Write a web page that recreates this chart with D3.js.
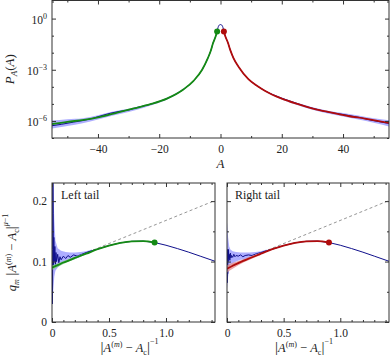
<!DOCTYPE html>
<html>
<head>
<meta charset="utf-8">
<style>
    body { margin: 0; background: #fff; }
    svg text { font-family: "Liberation Serif", "DejaVu Serif", serif; fill: #222; }
    .tick line { stroke: #333; }
    .frame { fill: none; stroke: #333; stroke-width: 1; }
</style>
</head>
<body>
<script src="https://cdn.jsdelivr.net/npm/d3@7"></script>
<script>
// ---- top panel: log10 P_A(A) ----
var leftA = [-55, -50, -44.6, -39.2, -33.7, -28.3, -22.9, -17.5, -12, -8.8, -6, -4.2, -3.2, -2.4, -1.6, -1.1];
var leftLogP = [-6.18, -6.05, -5.94, -5.76, -5.51, -5.27, -5.02, -4.69, -4.14, -3.65, -3.0, -2.35, -1.9, -1.42, -1.05, -0.75];
var rightA = [1.1, 1.6, 2.4, 3.2, 4.2, 6, 9.1, 12, 14.6, 20, 25.4, 30.8, 36.3, 41.7, 47.1, 55];
var rightLogP = [-0.75, -1.05, -1.4, -1.85, -2.3, -2.85, -3.55, -3.95, -4.24, -4.69, -5.02, -5.31, -5.51, -5.71, -5.86, -6.12];

var blueA = [-55, -52, -48, -45, -42, -39, -36, -33, -30, -27, -24, -20, -17.5, -12, -8.8, -6, -4.2, -3.2, -2.4, -1.6, -1.1, -0.8, -0.4, 0,
    0.4, 0.8, 1.1, 1.6, 2.4, 3.2, 4.2, 6, 9.1, 12, 14.6, 20, 25.4, 28, 31, 34, 37, 40, 43, 46, 49, 52, 55];
var blueLogP = [-6.28, -6.2, -6.07, -5.98, -5.86, -5.7, -5.55, -5.44, -5.36, -5.2, -5.08, -4.86, -4.69, -4.14, -3.65, -3.0, -2.35, -1.9, -1.42, -1.05, -0.75, -0.52, -0.38, -0.35,
    -0.38, -0.52, -0.75, -1.05, -1.4, -1.85, -2.3, -2.85, -3.55, -3.95, -4.24, -4.67, -5.0, -5.16, -5.3, -5.44, -5.54, -5.62, -5.72, -5.82, -5.95, -6.05, -6.15];

var bandLA = [-55, -50, -45, -40, -35, -30, -25, -20, -15, -10];
var bandLLo = [-6.45, -6.3, -6.14, -5.92, -5.68, -5.47, -5.22, -4.94, -4.52, -3.9];
var bandLHi = [-5.98, -5.9, -5.84, -5.66, -5.44, -5.28, -5.08, -4.82, -4.42, -3.84];
var bandRA = [10, 15, 20, 25, 30, 35, 40, 45, 50, 55];
var bandRLo = [-3.7, -4.32, -4.74, -5.07, -5.34, -5.57, -5.74, -5.92, -6.1, -6.32];
var bandRHi = [-3.64, -4.24, -4.62, -4.94, -5.2, -5.4, -5.54, -5.68, -5.84, -5.96];

var dotA = [-1.1, 1.1];
var dotLogP = [-0.75, -0.75];

// ---- bottom panels: q_m |A - Ac|^(mu-1) vs |A - Ac|^-1 ----
var uData = [0, 0.002, 0.004, 0.006, 0.008, 0.01, 0.013, 0.016, 0.02, 0.025, 0.03, 0.035, 0.04, 0.05, 0.06, 0.07, 0.08, 0.1, 0.12, 0.14, 0.16, 0.19,
    0.22, 0.26, 0.3, 0.35, 0.4, 0.5, 0.6, 0.7, 0.8, 0.9, 1.0, 1.1, 1.2, 1.3, 1.43];
var qLeft = [0.10, 0.06, 0.03, 0.12, 0.24, 0.18, 0.09, 0.14, 0.1, 0.125, 0.095, 0.115, 0.1, 0.112, 0.098, 0.108, 0.103, 0.109, 0.105, 0.11, 0.107, 0.111,
    0.109, 0.112, 0.115, 0.118, 0.1205, 0.1265, 0.131, 0.1335, 0.1338, 0.1315, 0.127, 0.1215, 0.1155, 0.109, 0.1005];
var qRight = [0.09, 0.065, 0.12, 0.08, 0.115, 0.1, 0.12, 0.105, 0.112, 0.102, 0.114, 0.106, 0.11, 0.107, 0.112, 0.108, 0.11, 0.109, 0.111, 0.108, 0.11, 0.111,
    0.11, 0.113, 0.115, 0.118, 0.1205, 0.1265, 0.131, 0.1335, 0.1338, 0.1315, 0.127, 0.1215, 0.1155, 0.109, 0.1005];

var uBand = [0, 0.01, 0.02, 0.03, 0.05, 0.08, 0.12, 0.16, 0.2, 0.25, 0.3, 0.35];
var leftBandLo = [0.03, 0.05, 0.075, 0.085, 0.09, 0.095, 0.099, 0.102, 0.104, 0.108, 0.113, 0.117];
var leftBandHi = [0.23, 0.23, 0.17, 0.135, 0.122, 0.118, 0.116, 0.115, 0.115, 0.116, 0.117, 0.12];
var rightBandLo = [0.055, 0.075, 0.088, 0.093, 0.097, 0.1, 0.103, 0.104, 0.105, 0.108, 0.113, 0.117];
var rightBandHi = [0.165, 0.14, 0.125, 0.12, 0.117, 0.116, 0.115, 0.115, 0.115, 0.116, 0.117, 0.12];

var uFit = [0, 0.05, 0.1, 0.15, 0.2, 0.3, 0.4, 0.5, 0.6, 0.7, 0.8, 0.9];
var qGreen = [0.090, 0.094, 0.0985, 0.102, 0.106, 0.113, 0.1205, 0.1265, 0.131, 0.1335, 0.1338, 0.1315];
var qRed = [0.088, 0.093, 0.0975, 0.1015, 0.1055, 0.113, 0.1205, 0.1265, 0.131, 0.1335, 0.1338, 0.1315];
var uFitBand = [0, 0.05, 0.1, 0.2, 0.3];
var greenBandLo = [0.086, 0.091, 0.096, 0.104, 0.112];
var greenBandHi = [0.094, 0.097, 0.101, 0.108, 0.114];
var redBandLo = [0.082, 0.088, 0.094, 0.103, 0.111];
var redBandHi = [0.094, 0.098, 0.101, 0.108, 0.115];

var dashU = [0, 1.43];
var dashQ = [0.0915, 0.201];
var uDot = 0.9, qDot = 0.1315;

var cBlue = "#10108c", cBand = "#8c8cff", cGreen = "#148a14", cRed = "#b00c0c";

var svg = d3.select("body").append("svg").attr("width", 390).attr("height", 357);
var defs = svg.append("defs");
var zip = function (a, b) { return a.map(function (v, i) { return [v, b[i]]; }); };
var zip3 = function (a, b, c) { return a.map(function (v, i) { return [v, b[i], c[i]]; }); };
var serif = "'Liberation Serif', 'DejaVu Serif', serif";

// draws inward ticks on all four sides plus the frame
function frame(g, x, y, w, h, xMaj, xMin, yMaj, yMin) {
    var sides = [
        [d3.axisBottom, x, xMaj, xMin, "translate(0," + h + ")"],
        [d3.axisTop, x, xMaj, xMin, "translate(0,0)"],
        [d3.axisLeft, y, yMaj, yMin, "translate(0,0)"],
        [d3.axisRight, y, yMaj, yMin, "translate(" + w + ",0)"]
    ];
    sides.forEach(function (s) {
        [[s[2], -4], [s[3], -2]].forEach(function (t) {
            var ax = g.append("g").attr("transform", s[4])
                .call(s[0](s[1]).tickValues(t[0]).tickSizeInner(t[1]).tickSizeOuter(0).tickFormat(""));
            ax.select(".domain").remove();
        });
    });
    g.append("rect").attr("class", "frame").attr("width", w).attr("height", h);
}

// ================= top panel =================
var tL = 52, tT = 0.5, tW = 337, tH = 137.5;
var gt = svg.append("g").attr("transform", "translate(" + tL + "," + tT + ")");
var xt = d3.scaleLinear().domain([-55, 55]).range([0, tW]);
var yt = d3.scaleLog().domain([1e-7, Math.pow(10, 1.06)]).range([tH, 0]);

defs.append("clipPath").attr("id", "clipTop").append("rect").attr("width", tW).attr("height", tH);
var pt = gt.append("g").attr("clip-path", "url(#clipTop)");

var areaTop = d3.area().x(function (d) { return xt(d[0]); })
    .y0(function (d) { return yt(Math.pow(10, d[1])); })
    .y1(function (d) { return yt(Math.pow(10, d[2])); })
    .curve(d3.curveMonotoneX);
var lineTop = d3.line().x(function (d) { return xt(d[0]); })
    .y(function (d) { return yt(Math.pow(10, d[1])); })
    .curve(d3.curveMonotoneX);

pt.append("path").datum(zip3(bandLA, bandLLo, bandLHi)).attr("d", areaTop).attr("fill", cBand).attr("opacity", 0.7);
pt.append("path").datum(zip3(bandRA, bandRLo, bandRHi)).attr("d", areaTop).attr("fill", cBand).attr("opacity", 0.7);
pt.append("path").datum(zip(blueA, blueLogP)).attr("d", lineTop).attr("fill", "none").attr("stroke", cBlue).attr("stroke-width", 1);
pt.append("path").datum(zip(leftA, leftLogP)).attr("d", lineTop).attr("fill", "none").attr("stroke", cGreen).attr("stroke-width", 1.8);
pt.append("path").datum(zip(rightA, rightLogP)).attr("d", lineTop).attr("fill", "none").attr("stroke", cRed).attr("stroke-width", 1.8);
pt.selectAll("circle").data(zip(dotA, dotLogP)).enter().append("circle")
    .attr("cx", function (d) { return xt(d[0]); })
    .attr("cy", function (d) { return yt(Math.pow(10, d[1])); })
    .attr("r", 3)
    .attr("fill", function (d, i) { return i === 0 ? cGreen : cRed; });

frame(gt, xt, yt, tW, tH, [-40, -20, 0, 20, 40], [-50, -30, -10, 10, 30, 50],
    [1, 1e-3, 1e-6], [10, 1e-1, 1e-2, 1e-4, 1e-5, 1e-7]);

var xtLab = gt.append("g").attr("transform", "translate(0," + tH + ")")
    .call(d3.axisBottom(xt).tickValues([-40, -20, 0, 20, 40]).tickSize(0).tickPadding(7)
        .tickFormat(function (d) { return d < 0 ? "\u2212" + (-d) : d; }));
xtLab.attr("font-family", serif).select(".domain").remove();
xtLab.selectAll("text").attr("font-size", 11.5);

var ytLab = gt.append("g")
    .call(d3.axisLeft(yt).tickValues([1, 1e-3, 1e-6]).tickSize(0).tickPadding(5).tickFormat(""));
ytLab.attr("font-family", serif).select(".domain").remove();
ytLab.selectAll("text").attr("font-size", 11.5).each(function (d) {
    var e = Math.round(Math.log10(d));
    var t = d3.select(this).attr("dy", "0.4em");
    t.append("tspan").text("10");
    t.append("tspan").attr("dy", -5).attr("font-size", 8).text(e === 0 ? "0" : "\u2212" + (-e));
});

svg.append("text").attr("x", tL + xt(0)).attr("y", 168).attr("text-anchor", "middle")
    .attr("font-size", 13).attr("font-style", "italic").text("A");

var ytTitle = svg.append("text").attr("transform", "translate(14," + (tT + tH / 2) + ") rotate(-90)")
    .attr("text-anchor", "middle").attr("font-size", 13);
ytTitle.append("tspan").attr("font-style", "italic").text("P");
ytTitle.append("tspan").attr("font-style", "italic").attr("font-size", 9).attr("dy", 3).text("A");
ytTitle.append("tspan").attr("dy", -3).text("(");
ytTitle.append("tspan").attr("font-style", "italic").text("A");
ytTitle.append("tspan").text(")");

// ================= bottom panels =================
var bT = 183, bH = 139;
var yb = d3.scaleLinear().domain([0, 0.23]).range([bH, 0]);

var panels = [
    { left: 52, w: 163, id: "clipL", q: qLeft, lo: leftBandLo, hi: leftBandHi, fit: qGreen, flo: greenBandLo, fhi: greenBandHi, col: cGreen, fband: "#86d086", title: "Left tail", labels: true },
    { left: 227, w: 162, id: "clipR", q: qRight, lo: rightBandLo, hi: rightBandHi, fit: qRed, flo: redBandLo, fhi: redBandHi, col: cRed, fband: "#e89090", title: "Right tail", labels: false }
];

panels.forEach(function (p) {
    var xb = d3.scaleLinear().domain([0, 1.43]).range([0, p.w]);
    var g = svg.append("g").attr("transform", "translate(" + p.left + "," + bT + ")");
    defs.append("clipPath").attr("id", p.id).append("rect").attr("width", p.w).attr("height", bH);
    var pg = g.append("g").attr("clip-path", "url(#" + p.id + ")");

    var area = d3.area().x(function (d) { return xb(d[0]); })
        .y0(function (d) { return yb(d[1]); }).y1(function (d) { return yb(d[2]); });
    var line = d3.line().x(function (d) { return xb(d[0]); }).y(function (d) { return yb(d[1]); });

    pg.append("path").datum(zip3(uBand, p.lo, p.hi)).attr("d", area).attr("fill", cBand).attr("opacity", 0.7);
    pg.append("path").datum(zip(dashU, dashQ)).attr("d", line).attr("fill", "none")
        .attr("stroke", "#8a8a8a").attr("stroke-width", 0.9).attr("stroke-dasharray", "3,2.5");
    pg.append("path").datum(zip(uData, p.q)).attr("d", line).attr("fill", "none").attr("stroke", cBlue).attr("stroke-width", 1);
    pg.append("path").datum(zip3(uFitBand, p.flo, p.fhi)).attr("d", area.curve(d3.curveMonotoneX)).attr("fill", p.fband).attr("opacity", 0.8);
    pg.append("path").datum(zip(uFit, p.fit)).attr("d", line.curve(d3.curveMonotoneX)).attr("fill", "none")
        .attr("stroke", p.col).attr("stroke-width", 1.8);
    pg.append("circle").attr("cx", xb(uDot)).attr("cy", yb(qDot)).attr("r", 3).attr("fill", p.col);

    frame(g, xb, yb, p.w, bH, [0, 0.5, 1.0], [0.1, 0.2, 0.3, 0.4, 0.6, 0.7, 0.8, 0.9, 1.1, 1.2, 1.3, 1.4],
        [0, 0.1, 0.2], [0.05, 0.15]);

    var xl = g.append("g").attr("transform", "translate(0," + bH + ")")
        .call(d3.axisBottom(xb).tickValues([0, 0.5, 1.0]).tickSize(0).tickPadding(7)
            .tickFormat(function (d) { return d === 0 ? "0" : d3.format(".1f")(d); }));
    xl.attr("font-family", serif).select(".domain").remove();
    xl.selectAll("text").attr("font-size", 11.5);

    if (p.labels) {
        var yl = g.append("g").call(d3.axisLeft(yb).tickValues([0, 0.1, 0.2]).tickSize(0).tickPadding(5)
            .tickFormat(function (d) { return d === 0 ? "0" : d3.format(".1f")(d); }));
        yl.attr("font-family", serif).select(".domain").remove();
        yl.selectAll("text").attr("font-size", 11.5);
    }

    g.append("text").attr("x", p.left === 52 ? 9 : 8).attr("y", 16).attr("font-size", 12).text(p.title);

    // x label |A^(m) - A_c|^-1
    var xt2 = g.append("text").attr("x", p.w / 2 - 4).attr("y", bH + 30).attr("text-anchor", "middle").attr("font-size", 12.5);
    xt2.append("tspan").attr("font-size", 15).text("|");
    xt2.append("tspan").attr("font-style", "italic").text("A");
    xt2.append("tspan").attr("font-size", 8).attr("dy", -5).text("(");
    xt2.append("tspan").attr("font-size", 8).attr("font-style", "italic").text("m");
    xt2.append("tspan").attr("font-size", 8).text(")");
    xt2.append("tspan").attr("dy", 5).text(" \u2212 ");
    xt2.append("tspan").attr("font-style", "italic").text("A");
    xt2.append("tspan").attr("font-size", 8).attr("dy", 3).text("c");
    xt2.append("tspan").attr("font-size", 15).attr("dy", -3).text("|");
    xt2.append("tspan").attr("font-size", 8).attr("dy", -8).text("\u22121");
});

var yTitle = svg.append("text").attr("transform", "translate(16," + (bT + bH / 2) + ") rotate(-90)")
    .attr("text-anchor", "middle").attr("font-size", 12.5);
yTitle.append("tspan").attr("font-style", "italic").text("q");
yTitle.append("tspan").attr("font-style", "italic").attr("font-size", 8).attr("dy", 3).text("m");
yTitle.append("tspan").attr("font-size", 15).attr("dy", -3).text(" |");
yTitle.append("tspan").attr("font-style", "italic").text("A");
yTitle.append("tspan").attr("font-size", 8).attr("dy", -5).text("(");
yTitle.append("tspan").attr("font-size", 8).attr("font-style", "italic").text("m");
yTitle.append("tspan").attr("font-size", 8).text(")");
yTitle.append("tspan").attr("dy", 5).text(" \u2212 ");
yTitle.append("tspan").attr("font-style", "italic").text("A");
yTitle.append("tspan").attr("font-size", 8).attr("dy", 3).text("c");
yTitle.append("tspan").attr("font-size", 15).attr("dy", -3).text("|");
yTitle.append("tspan").attr("font-size", 8).attr("dy", -8).attr("font-style", "italic").text("\u03bc");
yTitle.append("tspan").attr("font-size", 8).text("\u22121");
</script>
</body>
</html>
